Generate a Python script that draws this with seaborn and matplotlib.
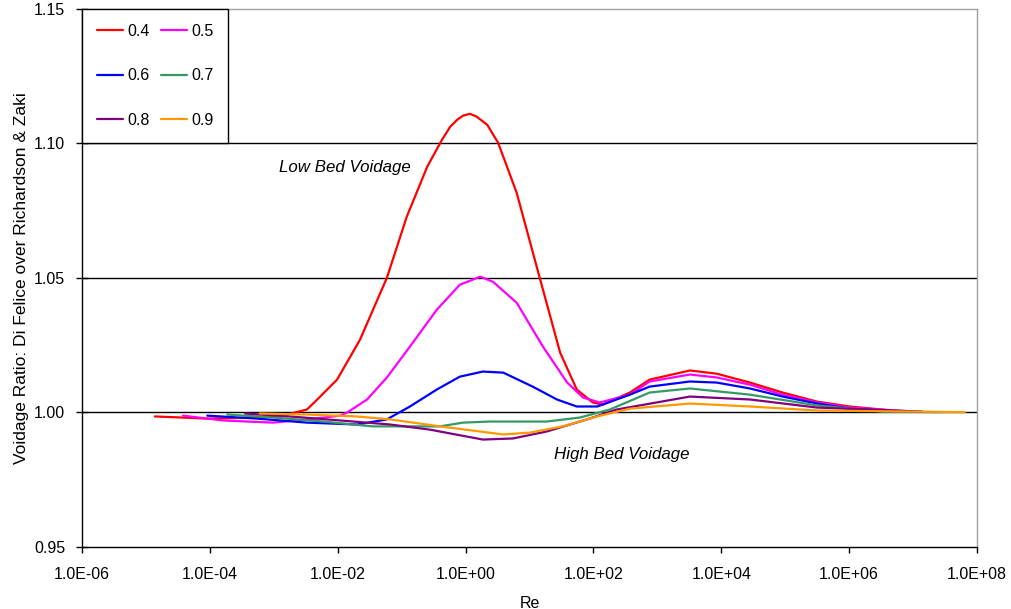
import numpy as np
import pandas as pd
import matplotlib
matplotlib.use("Agg")
import matplotlib.pyplot as plt
from matplotlib.ticker import FixedLocator, FuncFormatter
import seaborn as sns

# Bed voidage levels (legend labels)
voidages = ["0.4", "0.5", "0.6", "0.7", "0.8", "0.9"]
colors = ["#ff0000", "#ff00ff", "#0000ff", "#339966", "#800080", "#ff9900"]

# log10(Re) positions and voidage ratio for each bed voidage
exp_04 = [-4.86, -4.04, -3.26, -2.79, -2.48, -2.32, -2.01, -1.65, -1.23, -0.92, -0.60,
          -0.37, -0.24, -0.13, -0.04, 0.07, 0.17, 0.34, 0.51, 0.80, 1.16, 1.48, 1.74,
          1.99, 2.15, 2.57, 2.88, 3.51, 3.93, 4.45, 4.96, 5.50, 6.01, 6.67]
ratio_04 = [0.9984, 0.9976, 0.9980, 0.9991, 1.0010, 1.0047, 1.0121, 1.0270, 1.0500,
            1.0727, 1.0913, 1.1013, 1.1062, 1.1088, 1.1103, 1.1110, 1.1100, 1.1069,
            1.1002, 1.0816, 1.0500, 1.0221, 1.0084, 1.0036, 1.0028, 1.0073, 1.0121,
            1.0155, 1.0143, 1.0110, 1.0073, 1.0039, 1.0021, 1.0006]

exp_05 = [-4.42, -3.79, -3.01, -2.48, -1.96, -1.85, -1.54, -1.23, -0.87, -0.45, -0.09,
          0.23, 0.43, 0.80, 1.21, 1.59, 1.84, 2.10, 2.57, 2.88, 3.51, 3.93, 4.45, 4.96,
          5.50, 6.01, 7.00]
ratio_05 = [0.9987, 0.9969, 0.9961, 0.9973, 0.9987, 0.9999, 1.0047, 1.0129, 1.0244,
            1.0381, 1.0474, 1.0504, 1.0485, 1.0407, 1.0244, 1.0110, 1.0054, 1.0036,
            1.0065, 1.0114, 1.0140, 1.0129, 1.0102, 1.0065, 1.0036, 1.0017, 1.0002]

exp_06 = [-4.04, -3.26, -2.48, -1.70, -1.23, -0.87, -0.45, -0.09, 0.27, 0.59, 1.05,
          1.43, 1.74, 2.06, 2.57, 2.88, 3.51, 3.93, 4.45, 4.96, 5.50, 6.01, 6.80]
ratio_06 = [0.9987, 0.9976, 0.9961, 0.9954, 0.9973, 1.0021, 1.0084, 1.0132, 1.0151,
            1.0147, 1.0095, 1.0047, 1.0021, 1.0021, 1.0065, 1.0095, 1.0114, 1.0110,
            1.0088, 1.0058, 1.0032, 1.0013, 1.0002]

exp_07 = [-3.73, -3.01, -2.23, -1.45, -1.34, -0.40, -0.04, 0.38, 1.27, 1.79, 2.26,
          2.88, 3.51, 4.45, 5.50, 6.53, 7.47]
ratio_07 = [0.9991, 0.9980, 0.9965, 0.9947, 0.9947, 0.9947, 0.9961, 0.9965, 0.9965,
            0.9980, 1.0010, 1.0073, 1.0088, 1.0065, 1.0025, 1.0002, 1.0000]

exp_08 = [-3.45, -2.75, -1.96, -1.18, -0.56, 0.27, 0.74, 1.27, 1.90, 2.37, 3.51,
          4.45, 5.50, 7.14]
ratio_08 = [0.9995, 0.9984, 0.9969, 0.9954, 0.9935, 0.9898, 0.9902, 0.9928, 0.9973,
            1.0010, 1.0058, 1.0047, 1.0017, 1.0002]

exp_09 = [-3.22, -2.48, -1.70, -1.18, -0.40, 0.59, 1.01, 1.52, 2.06, 2.57, 3.51,
          4.45, 5.50, 7.81]
ratio_09 = [0.9995, 0.9991, 0.9984, 0.9973, 0.9947, 0.9917, 0.9924, 0.9947, 0.9984,
            1.0013, 1.0032, 1.0021, 1.0006, 1.0000]

exps = [exp_04, exp_05, exp_06, exp_07, exp_08, exp_09]
ratios = [ratio_04, ratio_05, ratio_06, ratio_07, ratio_08, ratio_09]

frames = []
for v, e, r in zip(voidages, exps, ratios):
    frames.append(pd.DataFrame({"Re": 10.0 ** np.array(e), "ratio": r, "voidage": v}))
df = pd.concat(frames, ignore_index=True)

x_ticks = [1e-6, 1e-4, 1e-2, 1e0, 1e2, 1e4, 1e6, 1e8]
y_ticks = [0.95, 1.00, 1.05, 1.10, 1.15]

sns.set_theme(style="white", rc={"text.color": "black", "axes.labelcolor": "black",
                                 "xtick.color": "black", "ytick.color": "black"})
plt.rcParams["font.family"] = ["Liberation Sans", "DejaVu Sans"]

fig = plt.figure(figsize=(10.12, 6.09), dpi=100)
ax = fig.add_axes([0.081, 0.1026, 0.8844, 0.8826])

for y in y_ticks[1:-1]:
    ax.axhline(y, color="black", lw=1.0, zorder=1)

sns.lineplot(data=df, x="Re", y="ratio", hue="voidage", hue_order=voidages,
             palette=colors, estimator=None, sort=True, lw=1.6, ax=ax, zorder=3)

ax.set_xscale("log")
ax.set_xlim(1e-6, 1e8)
ax.set_ylim(0.95, 1.15)
ax.xaxis.set_major_locator(FixedLocator(x_ticks))
ax.xaxis.set_minor_locator(FixedLocator([]))
ax.xaxis.set_major_formatter(FuncFormatter(lambda v, p: "1.0E%+03d" % int(round(np.log10(v)))))
ax.yaxis.set_major_locator(FixedLocator(y_ticks))
ax.yaxis.set_major_formatter(FuncFormatter(lambda v, p: "%.2f" % v))

ax.tick_params(axis="x", direction="out", length=4, width=1, color="black",
               labelsize=11.5, labelcolor="black", pad=10.5, bottom=True)
ax.tick_params(axis="y", direction="inout", length=8, width=1, color="black",
               labelsize=11.5, labelcolor="black", pad=8, left=True)

for side in ["left", "bottom"]:
    ax.spines[side].set_color("black")
    ax.spines[side].set_linewidth(1.0)
for side in ["top", "right"]:
    ax.spines[side].set_color("#a0a0a0")
    ax.spines[side].set_linewidth(1.0)

ax.set_xlabel("Re", fontsize=11.5, labelpad=10, color="black")
ax.set_ylabel("Voidage Ratio: Di Felice over Richardson & Zaki", fontsize=12.5,
              labelpad=4, color="black")

ax.text(10 ** -1.886, 1.0909, "Low Bed Voidage", style="italic", fontsize=12.2,
        ha="center", va="center", color="black")
ax.text(10 ** 2.447, 0.9842, "High Bed Voidage", style="italic", fontsize=12.2,
        ha="center", va="center", color="black")

# legend filled row by row: 0.4 0.5 / 0.6 0.7 / 0.8 0.9
handles, labels = ax.get_legend_handles_labels()
order = [0, 2, 4, 1, 3, 5]
leg = ax.legend([handles[i] for i in order], [labels[i] for i in order],
                loc="upper left", bbox_to_anchor=(0, 1), borderaxespad=0, ncol=2,
                fontsize=11.5, frameon=True, fancybox=False, edgecolor="black",
                framealpha=1, borderpad=0.93, handlelength=1.65, handletextpad=0.25,
                columnspacing=0.7, labelspacing=1.85, labelcolor="black")
leg.get_frame().set_linewidth(1.0)
for line in leg.get_lines():
    line.set_linewidth(1.6)

fig.savefig("out.png", dpi=100)
